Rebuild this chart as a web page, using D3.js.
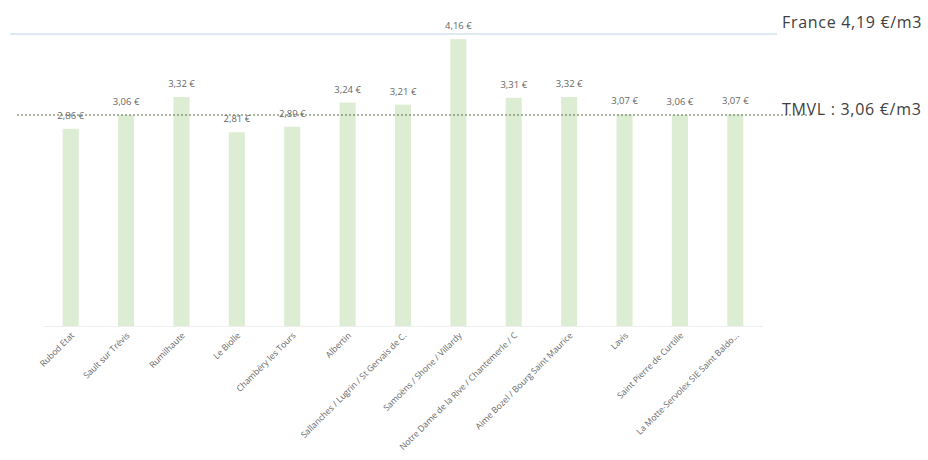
<!DOCTYPE html>
<html>
<head>
<meta charset="utf-8">
<script src="https://cdn.jsdelivr.net/npm/d3@7"></script>
<style>
  body { margin: 0; background: #fff; }
  text { font-family: "Open Sans", "Noto Sans", sans-serif; }
</style>
</head>
<body>
<div id="chart"></div>
<script>
// Data
const categories = [
    "Rubod Etat", "Sault sur Trévis", "Rumilhaute", "Le Biolle",
    "Chambéry les Tours", "Albertin", "Sallanches / Lugrin / St Gervais de C.",
    "Samoëns / Shone / Villardy", "Notre Dame de la Rive / Chantemerle / C",
    "Aime Bozel / Bourg Saint Maurice", "Lavis", "Saint Pierre de Curtille",
    "La Motte-Servolex SIE Saint Baldo..."
];
const prices = [2.86, 3.06, 3.32, 2.81, 2.89, 3.24, 3.21, 4.16, 3.31, 3.32, 3.07, 3.06, 3.07];
const refValues = [4.19, 3.06];
const refLabels = ["France 4,19 €/m3", "TMVL : 3,06 €/m3"];

const W = 928, H = 460;
const x0 = 43, x1 = 763, baseY = 326;

const svg = d3.select("#chart")
    .append("svg")
    .attr("width", W)
    .attr("height", H);

const x = d3.scaleBand()
    .domain(categories)
    .range([x0, x1])
    .paddingInner(0.71)
    .paddingOuter(0.355);

const y = d3.scaleLinear()
    .domain([0, 3.06])
    .range([baseY, 115]);

const fmt = v => v.toFixed(2).replace(".", ",") + " €";

// France line (light blue)
svg.append("line")
    .attr("x1", 10).attr("x2", 777)
    .attr("y1", y(refValues[0]) - 3).attr("y2", y(refValues[0]) - 3)
    .attr("stroke", "#dfe9f4")
    .attr("stroke-width", 2);

// bars
svg.selectAll(".bar")
    .data(prices)
    .join("rect")
    .attr("class", "bar")
    .attr("x", (d, i) => x(categories[i]))
    .attr("width", x.bandwidth())
    .attr("y", d => y(d))
    .attr("height", d => baseY - y(d))
    .attr("fill", "#dcedd3");

// x axis line
svg.append("line")
    .attr("x1", x0).attr("x2", x1)
    .attr("y1", baseY + 0.5).attr("y2", baseY + 0.5)
    .attr("stroke", "#efefef")
    .attr("stroke-width", 1);

// TMVL dotted line
svg.append("line")
    .attr("x1", 17).attr("x2", 813)
    .attr("y1", y(refValues[1])).attr("y2", y(refValues[1]))
    .attr("stroke", "#5b6e48")
    .attr("stroke-width", 1.2)
    .attr("stroke-dasharray", "2,2");

// value labels
svg.selectAll(".val")
    .data(prices)
    .join("text")
    .attr("class", "val")
    .attr("x", (d, i) => x(categories[i]) + x.bandwidth() / 2)
    .attr("y", d => y(d) - 10)
    .attr("text-anchor", "middle")
    .attr("font-size", 9.5)
    .attr("fill", "#666")
    .text(fmt);

// category labels, rotated
svg.selectAll(".cat")
    .data(categories)
    .join("text")
    .attr("class", "cat")
    .attr("transform", d => `translate(${x(d) + x.bandwidth() / 2 + 4},${baseY + 10}) rotate(-45)`)
    .attr("text-anchor", "end")
    .attr("font-size", 8.6)
    .attr("fill", "#666")
    .text(d => d);

// reference labels on the right
svg.selectAll(".ref")
    .data(refLabels)
    .join("text")
    .attr("class", "ref")
    .attr("x", 782)
    .attr("y", (d, i) => i === 0 ? 28 : 115)
    .attr("font-size", 16)
    .attr("letter-spacing", 0.7)
    .attr("fill", "#404040")
    .text(d => d);
</script>
</body>
</html>
